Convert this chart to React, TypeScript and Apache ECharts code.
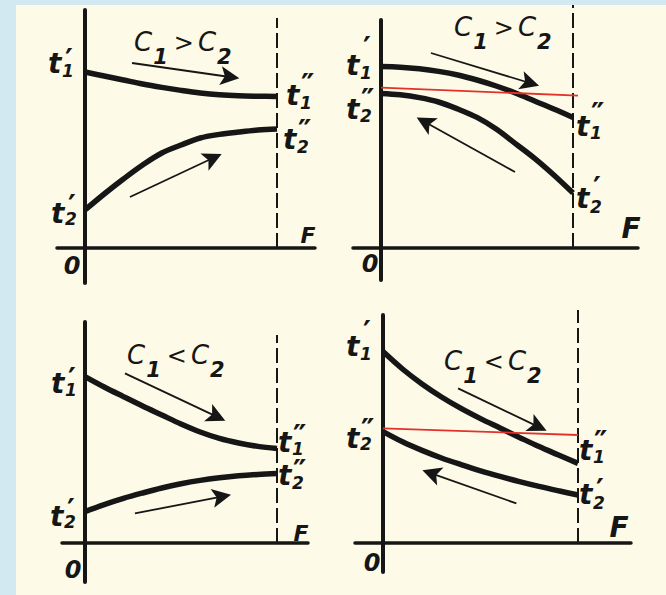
import React, { useEffect, useRef } from "react";
import * as echarts from "echarts";

// Heat-transfer surface F: 0 at the inlet, 10 at the outlet (dashed line)
const F_STEPS = [0, 1, 2, 3, 4, 5, 6, 7, 8, 9, 10];

// Panel 1: parallel flow, C1 > C2
const p1Hot = [88, 86, 84, 82, 80.3, 78.8, 77.5, 76.6, 76.1, 75.9, 75.8];
const p1Cold = [19, 27, 34.5, 41.5, 47.5, 51.5, 55, 56.8, 58, 59, 59.5];
// Panel 2: counter flow, C1 > C2
const p2Hot = [90.7, 90.4, 89.6, 88.3, 86.5, 84, 81, 77.5, 73.5, 69.5, 65.3];
const p2Cold = [77.3, 76.6, 75.2, 73, 69.5, 65.3, 59.5, 52.2, 44.8, 36.5, 27.5];
// Panel 3: parallel flow, C1 < C2
const p3Hot = [83.2, 78, 73.2, 68.5, 64, 59.5, 55.5, 52.3, 50, 48.3, 47.3];
const p3Cold = [15.7, 19.2, 22.3, 25, 27.5, 29.6, 31.3, 32.6, 33.6, 34.3, 34.8];
// Panel 4: counter flow, C1 < C2
const p4Hot = [95.7, 87, 79.5, 73, 67.3, 62.2, 57.5, 52.8, 48.2, 44, 39.8];
const p4Cold = [55.7, 50.6, 46.3, 42.5, 39.2, 36.1, 33.3, 30.7, 28.3, 26.1, 24];

// Red reference lines (t2'' level) in the counter-flow panels
const p2Red = [[0, 80.2], [10.26, 76.2]];
const p4Red = [[0, 57.3], [10, 54]];

// Top of each dashed outlet line
const dashTops = [115, 121.5, 104, 116.5];

// Flow-direction arrows [tail, tip]
const p1Arrows = [[[2.45, 92.5], [7.55, 85.5]], [[2.34, 25.5], [6.67, 45]]];
const p2Arrows = [[[2.6, 97.5], [7.76, 82.5]], [[6.98, 38], [2.29, 63]]];
const p3Arrows = [[[2.08, 84.8], [6.86, 63.2]], [[2.6, 14.8], [7.12, 23.2]]];
const p4Arrows = [[[3.85, 77.3], [7.95, 58.2]], [[6.84, 19.8], [2.48, 34.8]]];

const conditionOps = [">", ">", "<", "<"];

const hotSeries = [p1Hot, p2Hot, p3Hot, p4Hot];
const coldSeries = [p1Cold, p2Cold, p3Cold, p4Cold];
const arrowSets = [p1Arrows, p2Arrows, p3Arrows, p4Arrows];
const redLines: (number[][] | null)[] = [null, p2Red, null, p4Red];

// ---- layout (pixels) ----
const layout = [
  { left: 57, top: 10, right: 315, bottom: 283, ox: 85, oy: 248, dx: 277 },
  { left: 353, top: 20, right: 638, bottom: 280, ox: 381, oy: 248, dx: 573 },
  { left: 62, top: 322, right: 308, bottom: 582, ox: 85, oy: 543, dx: 277 },
  { left: 355, top: 315, right: 631, bottom: 572, ox: 383, oy: 543, dx: 578 },
];
const PX_PER_Y = 2;

const INK = "#161616";
const CREAM = "#fdfbe7";
const BLUE = "#d3e9f1";
const RED = "#e3312b";
const FONT = '"DejaVu Sans", sans-serif';
const ARROW_HEAD = "path://M5,0 L10,26 L5,20 L0,26 Z";
const PRIME_SIZE = 30;

// t-labels: [tLeft, tMid, sub, primes, primeDy, subDy]
const tLabels: [number, number, string, number, number, number][] = [
  [48, 63, "1", 1, -11, 8],
  [51, 213, "2", 1, -15, 6],
  [286, 95, "1", 2, -18, 8],
  [283, 139, "2", 2, -16, 8],
  [346, 65, "1", 1, -25, 8],
  [346, 109, "2", 2, -17, 7],
  [576, 126, "1", 2, -20, 7],
  [576, 198, "2", 1, -18, 9],
  [51, 383, "1", 1, -12, 7],
  [50, 516, "2", 1, -14, 6],
  [278, 442, "1", 2, -14, 7],
  [278, 475, "2", 2, -12, 8],
  [346, 346, "1", 1, -22, 8],
  [346, 438, "2", 2, -16, 6],
  [579, 450, "1", 2, -16, 7],
  [579, 494, "2", 1, -12, 9],
];
const fLabels: [number, number, number][] = [
  [308, 235, 22], [631, 228, 28], [301, 533, 22], [619, 527, 28],
];
const zeroLabels: [number, number][] = [
  [72, 266], [370, 264], [73, 570], [372, 563],
];
const condPos: [number, number][] = [
  [134, 39], [454, 24], [127, 352], [444, 358],
];

function buildOption() {
  const grids: any[] = [];
  const xAxes: any[] = [];
  const yAxes: any[] = [];
  const series: any[] = [];
  layout.forEach((p, i) => {
    const xu = (p.dx - p.ox) / 10;
    grids.push({
      left: p.left,
      top: p.top,
      width: p.right - p.left,
      height: p.bottom - p.top,
      outerBoundsMode: "none",
      containLabel: false,
    });
    const axisCommon = {
      gridIndex: i,
      type: "value",
      axisTick: { show: false },
      axisLabel: { show: false },
      splitLine: { show: false },
    };
    xAxes.push({
      ...axisCommon,
      min: (p.left - p.ox) / xu,
      max: (p.right - p.ox) / xu,
      axisLine: { show: true, onZero: true, lineStyle: { color: INK, width: 3.5 } },
    });
    yAxes.push({
      ...axisCommon,
      min: (p.oy - p.bottom) / PX_PER_Y,
      max: (p.oy - p.top) / PX_PER_Y,
      axisLine: { show: true, onZero: true, lineStyle: { color: INK, width: 4 } },
    });
    const lineBase = {
      type: "line",
      xAxisIndex: i,
      yAxisIndex: i,
      symbol: "none",
      clip: false,
      silent: true,
    };
    series.push({
      ...lineBase,
      data: [[10, 0], [10, dashTops[i]]],
      lineStyle: { color: INK, width: 2, type: [15, 5] },
      z: 1,
    });
    series.push({
      ...lineBase,
      smooth: 0.35,
      data: F_STEPS.map((f, k) => [f, hotSeries[i][k]]),
      lineStyle: { color: INK, width: 5.5, cap: "butt" },
      z: 3,
    });
    series.push({
      ...lineBase,
      smooth: 0.35,
      data: F_STEPS.map((f, k) => [f, coldSeries[i][k]]),
      lineStyle: { color: INK, width: 5.5, cap: "butt" },
      z: 3,
    });
    const red = redLines[i];
    if (red) {
      series.push({
        ...lineBase,
        data: red,
        lineStyle: { color: RED, width: 1.8 },
        z: 4,
      });
    }
    series.push({
      type: "lines",
      coordinateSystem: "cartesian2d",
      xAxisIndex: i,
      yAxisIndex: i,
      symbol: ["none", ARROW_HEAD],
      symbolSize: [6, 19],
      silent: true,
      lineStyle: { color: INK, width: 1.8, opacity: 1, curveness: 0 },
      data: arrowSets[i].map((a) => ({ coords: a })),
      z: 3,
    });
  });

  const graphic: any[] = [
    { type: "rect", shape: { x: 0, y: 0, width: 666, height: 5 }, style: { fill: BLUE }, silent: true, z: -10 },
    { type: "rect", shape: { x: 0, y: 0, width: 16, height: 595 }, style: { fill: BLUE }, silent: true, z: -10 },
  ];
  tLabels.forEach(([x, y, sub, primes, pdy, sdy]) => {
    const gap = sdy - pdy;
    const h1 = Math.max(2, 2 * (gap - 9 - 0.245 * PRIME_SIZE));
    const stackTop = y + sdy - h1 - 9;
    graphic.push({
      type: "text",
      silent: true,
      style: {
        text: "t", x, y, fill: INK, fontFamily: FONT, fontSize: 28,
        fontStyle: "italic", fontWeight: "bold", align: "left", verticalAlign: "middle",
      },
    });
    graphic.push({
      type: "text",
      silent: true,
      style: {
        text: `{p|${primes === 2 ? "″" : "′"}}\n{s|${sub}}`,
        x: x + 14,
        y: stackTop,
        align: "left",
        verticalAlign: "top",
        fill: INK,
        rich: {
          p: { fontFamily: FONT, fontSize: PRIME_SIZE, fontWeight: "bold", fill: INK, color: INK, lineHeight: h1, padding: [0, 0, 0, primes === 2 ? 1 : 3] },
          s: { fontFamily: FONT, fontSize: 17, fontStyle: "italic", fontWeight: "bold", fill: INK, color: INK, lineHeight: 18 },
        },
      },
    });
  });
  fLabels.forEach(([x, y, s]) => {
    graphic.push({
      type: "text",
      silent: true,
      style: {
        text: "F", x, y, fill: INK, fontFamily: FONT, fontSize: s, fontStyle: "italic",
        fontWeight: "bold", align: "center", verticalAlign: "middle",
      },
    });
  });
  zeroLabels.forEach(([x, y]) => {
    graphic.push({
      type: "text",
      silent: true,
      style: {
        text: "0", x, y, fill: INK, fontFamily: FONT, fontSize: 24, fontStyle: "italic",
        fontWeight: "bold", align: "center", verticalAlign: "middle",
      },
    });
  });
  conditionOps.forEach((op, i) => {
    const [x, y] = condPos[i];
    graphic.push({
      type: "text",
      silent: true,
      style: {
        text: `{c|C}{s|1}{o|${op}}{c|C}{s|2}`,
        x, y, align: "left", verticalAlign: "top", fill: INK,
        rich: {
          c: { fontFamily: FONT, fontSize: 26, fontStyle: "italic", fill: INK, color: INK, lineHeight: 28, padding: [0, 0, 12, 0], verticalAlign: "bottom" },
          s: { fontFamily: FONT, fontSize: 21, fontStyle: "italic", fontWeight: "bold", fill: INK, color: INK, lineHeight: 22, padding: [0, 0, 0, 1], verticalAlign: "bottom" },
          o: { fontFamily: FONT, fontSize: 24, fill: INK, color: INK, lineHeight: 28, padding: [0, 4, 12, 6], verticalAlign: "bottom" },
        },
      },
    });
  });

  return {
    animation: false,
    backgroundColor: CREAM,
    grid: grids,
    xAxis: xAxes,
    yAxis: yAxes,
    series,
    graphic,
  };
}

export default function App() {
  const ref = useRef<HTMLDivElement>(null);
  useEffect(() => {
    if (!ref.current) return;
    const chart = echarts.init(ref.current, undefined, { renderer: "svg" });
    chart.setOption(buildOption() as any);
    return () => chart.dispose();
  }, []);
  return (
    <div style={{ position: "fixed", left: 0, top: 0, width: 666, height: 595, background: CREAM }}>
      <div ref={ref} style={{ width: 666, height: 595 }} />
    </div>
  );
}
